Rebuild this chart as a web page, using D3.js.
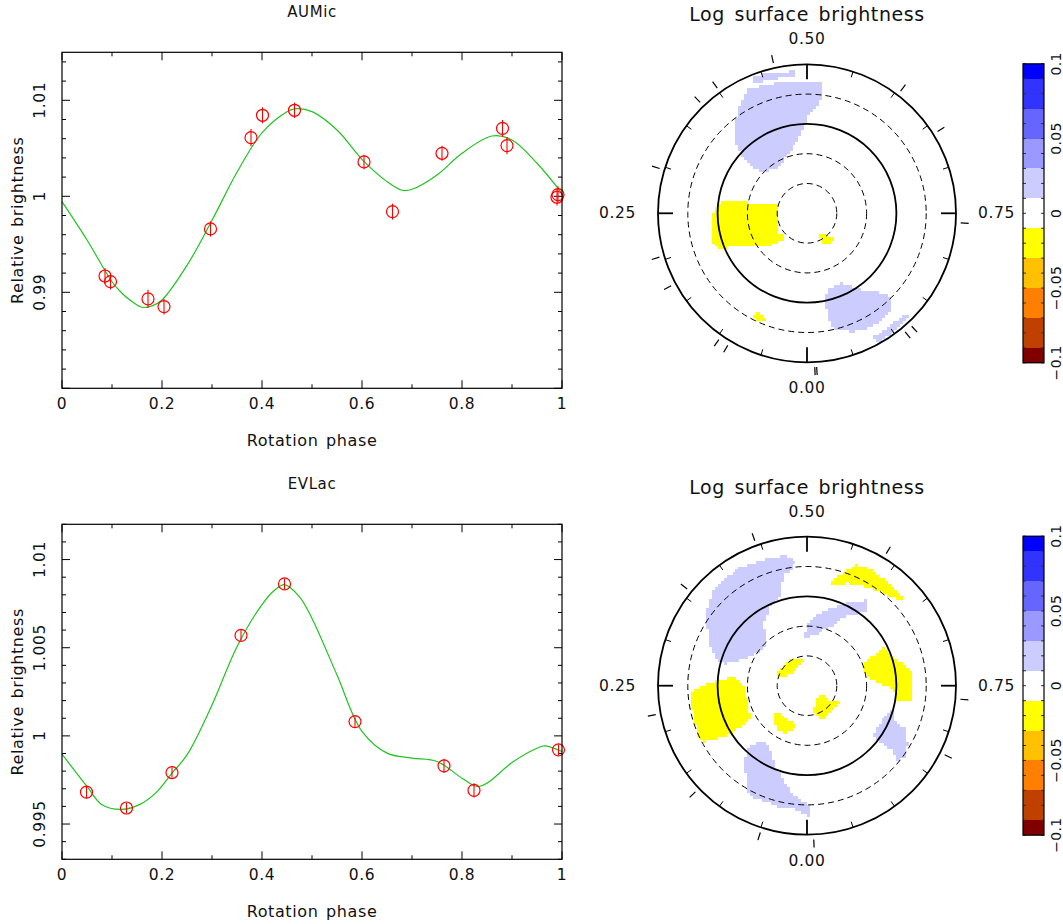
<!DOCTYPE html>
<html lang="en">
<head>
<meta charset="UTF-8" />
<title>Light curves and surface brightness maps</title>
<script src="https://d3js.org/d3.v7.min.js"></script>
<style>
  body { margin: 0; background: #fff; }
  svg { display: block; font-family: "DejaVu Sans", sans-serif; }
  text { letter-spacing: 0.6px; fill: #111; }
  .cell { shape-rendering: crispEdges; }
</style>
</head>
<body>
<svg id="chart"></svg>
<script>
const W = 1063, H = 924;

// AU Mic photometry (phase, relative brightness, error)
const aumicPhase = [0.086, 0.097, 0.172, 0.204, 0.297, 0.378, 0.401, 0.465, 0.604, 0.661, 0.760, 0.881, 0.890, 0.990, 0.992];
const aumicFlux  = [0.99170, 0.99111, 0.98931, 0.98851, 0.99660, 1.00611, 1.00844, 1.00896, 1.00358, 0.99840, 1.00448, 1.00708, 1.00528, 0.99990, 1.00017];
const aumicErr   = [0.00082, 0.00082, 0.00095, 0.00083, 0.0008, 0.0009, 0.00083, 0.0008, 0.00075, 0.00083, 0.00078, 0.00087, 0.0009, 0.00087, 0.00087];
// AU Mic model light curve
const aumicModelPhase = [0, 0.05, 0.1, 0.12, 0.14, 0.16, 0.18, 0.2, 0.25, 0.3, 0.35, 0.4, 0.45, 0.467, 0.5, 0.55, 0.6, 0.65, 0.68, 0.7, 0.75, 0.8, 0.86, 0.9, 0.95, 1.0];
const aumicModelFlux  = [0.99944, 0.99545, 0.99110, 0.98990, 0.98903, 0.98844, 0.98858, 0.98920, 0.99280, 0.99750, 1.00250, 1.00660, 1.00880, 1.00913, 1.00882, 1.00691, 1.00385, 1.00153, 1.00063, 1.00073, 1.00222, 1.00448, 1.00628, 1.00587, 1.00344, 1.00031];

// EV Lac photometry
const evlacPhase = [0.049, 0.129, 0.220, 0.358, 0.445, 0.586, 0.764, 0.824, 0.993];
const evlacFlux  = [0.99681, 0.99591, 0.99792, 1.00570, 1.00862, 1.00081, 0.99830, 0.99691, 0.99921];
const evlacErr   = [0.00035, 0.0003, 0.0003, 0.0003, 0.0003, 0.0003, 0.0004, 0.0004, 0.0003];
// EV Lac model light curve
const evlacModelPhase = [0, 0.05, 0.08, 0.12, 0.157, 0.187, 0.22, 0.25, 0.3, 0.35, 0.4, 0.425, 0.445, 0.475, 0.5, 0.55, 0.6, 0.65, 0.7, 0.75, 0.8, 0.83, 0.85, 0.9, 0.95, 0.965, 1.0];
const evlacModelFlux  = [0.99896, 0.99713, 0.99609, 0.99583, 0.99613, 0.99675, 0.99789, 0.99892, 1.00175, 1.00506, 1.00745, 1.00826, 1.00858, 1.00789, 1.00666, 1.00345, 1.00025, 0.99902, 0.99874, 0.99855, 0.99760, 0.99713, 0.99732, 0.99849, 0.99930, 0.99943, 0.99911];

const xTickLabels = ["0", "0.2", "0.4", "0.6", "0.8", "1"];
const aumicYTicks = [0.99, 1, 1.01];
const evlacYTicks = [0.995, 1, 1.005, 1.01];

// brightness map levels
const bandEdges  = [-0.1, -0.09, -0.07, -0.05, -0.03, -0.01, 0.01, 0.03, 0.05, 0.07, 0.09, 0.1];
const bandColors = ["#800000", "#c04000", "#ff8000", "#ffc000", "#ffff00", "#ffffff", "#ccccff", "#9999ff", "#6666ff", "#3333ff", "#0000ff"];
const barLabels  = [0.1, 0.05, 0, -0.05, -0.1];
const mapPhaseLabels = [0, 0.25, 0.5, 0.75];
const ringLats = [60, 30, 0, -30, -60];

// spots: outlines in the polar projection plane (colatitude degrees, phase 0 down)
const aumicSpots = [
  { level: 0.02, pts: [[-54,-136],[-44,-140],[-12,-143],[-12,-139],[-34,-136],[-52,-132]] },
  { level: 0.02, pts: [[-67,-110],[-59,-125],[-37,-130],[-17,-133],[15,-131],[15,-116],[11,-108],[0,-98],[-2,-88],[-10,-73],[-19,-60],[-30,-47],[-44,-41],[-52,-45],[-62,-53],[-69,-64],[-72,-76],[-71,-93]] },
  { level: -0.02, pts: [[-95,0],[-87,-11],[-30,-10],[-30,20],[-24,23],[-26,27],[-37,32],[-80,34],[-89,37],[-95,29]] },
  { level: -0.02, pts: [[13,21],[20,22],[26,25],[25,30],[18,30],[14,26]] },
  { level: -0.02, pts: [[-52,100],[-47,100],[-42,106],[-45,109],[-54,105]] },
  { level: 0.02, pts: [[21,77],[33,70],[56,77],[76,80],[85,86],[83,97],[75,108],[65,114],[46,119],[30,117],[23,110],[19,95],[18,86]] },
  { level: 0.02, pts: [[66,125],[83,114],[100,100],[102,104],[90,117],[73,129]] }
];
const aumicObsPhase = aumicPhase;

const evlacSpots = [
  { level: 0.02, pts: [[-102,-74],[-95,-94],[-84,-107],[-67,-119],[-47,-126],[-22,-132],[-12,-124],[-17,-117],[-25,-111],[-27,-91],[-37,-81],[-44,-64],[-42,-41],[-50,-34],[-64,-27],[-84,-22],[-92,-27],[-99,-44],[-101,-61]] },
  { level: 0.02, pts: [[-4,-49],[3,-66],[11,-71],[23,-77],[43,-84],[60,-86],[60,-76],[46,-72],[35,-69],[28,-63],[20,-58],[10,-52],[1,-48]] },
  { level: -0.02, pts: [[25,-104],[38,-115],[50,-122],[63,-117],[76,-107],[90,-96],[96,-88],[93,-87],[81,-92],[68,-97],[56,-101],[40,-104],[28,-101]] },
  { level: -0.02, pts: [[56,-23],[65,-29],[76,-39],[85,-32],[90,-26],[100,-19],[105,-12],[105,14],[91,14],[88,3],[75,-1],[63,-7],[56,-16]] },
  { level: -0.02, pts: [[-117,9],[-110,2],[-90,-6],[-72,-9],[-64,-1],[-61,13],[-57,33],[-67,41],[-82,51],[-104,56],[-110,49],[-115,28]] },
  { level: -0.02, pts: [[-30,-12],[-22,-22],[-15,-27],[-1,-27],[-10,-17],[-17,-11],[-29,-9]] },
  { level: -0.02, pts: [[6,26],[10,11],[18,9],[20,14],[31,14],[33,18],[23,25],[16,33],[9,30]] },
  { level: -0.02, pts: [[-34,28],[-26,27],[-24,33],[-16,37],[-12,42],[-22,48],[-30,43],[-33,36]] },
  { level: 0.02, pts: [[-62,73],[-58,61],[-44,55],[-35,69],[-34,79],[-27,89],[-17,108],[-2,118],[3,121],[3,132],[-4,128],[-14,124],[-25,123],[-40,117],[-55,113],[-60,106],[-59,94],[-63,84]] },
  { level: 0.02, pts: [[66,49],[74,37],[81,29],[86,24],[88,36],[98,43],[101,59],[98,71],[91,76],[86,64],[76,58],[67,51]] }
];
const evlacObsPhase = evlacPhase;

const svg = d3.select("#chart").attr("width", W).attr("height", H);
const colour = d3.scaleThreshold().domain(bandEdges.slice(1, -1)).range(bandColors);

function lightCurve(opts) {
  const { top, bottom, domain, yTicks, major, minor, phase, flux, err, mPhase, mFlux, title } = opts;
  const x = d3.scaleLinear([0, 1], [62, 562]);
  const y = d3.scaleLinear(domain, [bottom, top]);
  const g = svg.append("g");

  g.append("text").attr("x", 312).attr("y", top - 35).attr("text-anchor", "middle")
    .attr("font-size", 15).text(title);

  // ticks inside the frame
  const stepTicks = (d0, d1, s) => d3.range(Math.ceil(d0 / s - 1e-6), Math.floor(d1 / s + 1e-6) + 1).map(i => i * s);
  const xt = stepTicks(0, 1, 0.1);
  xt.forEach((v, i) => {
    const len = i % 2 === 0 ? 8 : 4;
    g.append("line").attr("x1", x(v)).attr("x2", x(v)).attr("y1", bottom).attr("y2", bottom - len).attr("stroke", "#000");
    g.append("line").attr("x1", x(v)).attr("x2", x(v)).attr("y1", top).attr("y2", top + len).attr("stroke", "#000");
  });
  stepTicks(domain[0], domain[1], minor).forEach(v => {
    const isMajor = Math.abs(v / major - Math.round(v / major)) < 1e-6;
    const len = isMajor ? 8 : 4;
    g.append("line").attr("x1", 62).attr("x2", 62 + len).attr("y1", y(v)).attr("y2", y(v)).attr("stroke", "#000");
    g.append("line").attr("x1", 562).attr("x2", 562 - len).attr("y1", y(v)).attr("y2", y(v)).attr("stroke", "#000");
  });

  g.selectAll(".xl").data(xTickLabels).join("text")
    .attr("x", d => x(+d)).attr("y", bottom + 16).attr("text-anchor", "middle")
    .attr("dominant-baseline", "central").attr("font-size", 15.5).text(d => d);

  g.selectAll(".yl").data(yTicks).join("text")
    .attr("transform", d => `translate(40,${y(d)}) rotate(-90)`)
    .attr("text-anchor", "middle").attr("dominant-baseline", "central")
    .attr("font-size", 15.5).text(d => String(d));

  g.append("text").attr("transform", `translate(17,${(top + bottom) / 2}) rotate(-90)`)
    .attr("text-anchor", "middle").attr("dominant-baseline", "central")
    .attr("font-size", 16).attr("word-spacing", 2).text("Relative brightness");
  g.append("text").attr("x", 312).attr("y", bottom + 52).attr("text-anchor", "middle")
    .attr("dominant-baseline", "central").attr("font-size", 16).attr("word-spacing", 2).text("Rotation phase");

  // model curve
  const line = d3.line().x(d => x(d[0])).y(d => y(d[1])).curve(d3.curveCatmullRom.alpha(0.5));
  g.append("path").datum(d3.zip(mPhase, mFlux)).attr("d", line)
    .attr("fill", "none").attr("stroke", "#1fc41f").attr("stroke-width", 1.2);

  // observations
  const obs = d3.zip(phase, flux, err);
  g.selectAll(".eb").data(obs).join("line")
    .attr("x1", d => x(d[0])).attr("x2", d => x(d[0]))
    .attr("y1", d => y(d[1] - d[2])).attr("y2", d => y(d[1] + d[2]))
    .attr("stroke", "#ff0000").attr("stroke-width", 1.1);
  g.selectAll(".pt").data(obs).join("circle")
    .attr("cx", d => x(d[0])).attr("cy", d => y(d[1])).attr("r", 6)
    .attr("fill", "none").attr("stroke", "#ff0000").attr("stroke-width", 1.2);

  g.append("rect").attr("x", 62).attr("y", top).attr("width", 500).attr("height", bottom - top)
    .attr("fill", "none").attr("stroke", "#000").attr("stroke-width", 1.2);
}

function surfaceMap(cy, spots, obsPhase) {
  const cx = 807, R = 149;
  const g = svg.append("g");
  const mx = d3.scaleLinear([-150, 150], [cx - R, cx + R]);
  const my = d3.scaleLinear([-150, 150], [cy - R, cy + R]);
  const rs = d3.scaleLinear([90, -60], [0, R]);           // latitude -> radius
  const ang = d3.scaleLinear([0, 1], [0, 2 * Math.PI]);  // phase -> angle
  const px = (p, r) => cx - r * Math.sin(ang(p));
  const py = (p, r) => cy + r * Math.cos(ang(p));

  g.append("text").attr("x", cx).attr("y", cy - 199).attr("text-anchor", "middle")
    .attr("dominant-baseline", "central").attr("font-size", 19).attr("word-spacing", 3)
    .text("Log surface brightness");

  // rasterised spots
  const step = 3, cells = [];
  for (let v = -150; v < 150; v += step) {
    for (let u = -150; u < 150; u += step) {
      const c = [u + step / 2, v + step / 2];
      if (Math.hypot(c[0], c[1]) > 150) continue;
      const s = spots.find(s => d3.polygonContains(s.pts, c));
      if (s) cells.push({ u, v, level: s.level });
    }
  }
  g.selectAll(".cell").data(cells).join("rect").attr("class", "cell")
    .attr("x", d => mx(d.u)).attr("y", d => my(d.v))
    .attr("width", mx(step) - mx(0) + 0.4).attr("height", my(step) - my(0) + 0.4)
    .attr("fill", d => colour(d.level));

  // latitude rings
  g.selectAll(".ring").data(ringLats).join("circle")
    .attr("cx", cx).attr("cy", cy).attr("r", d => rs(d))
    .attr("fill", "none").attr("stroke", "#000")
    .attr("stroke-width", d => (d === 0 || d === -60) ? 1.8 : 1)
    .attr("stroke-dasharray", d => (d === 0 || d === -60) ? null : "6,4");

  // phase ticks inside outer circle
  const inner = d3.range(20).map(i => i / 20);
  const isQuarter = d => Math.round(d * 20) % 5 === 0;
  g.selectAll(".itk").data(inner).join("line")
    .attr("x1", d => px(d, R)).attr("y1", d => py(d, R))
    .attr("x2", d => px(d, R - (isQuarter(d) ? 15 : 6)))
    .attr("y2", d => py(d, R - (isQuarter(d) ? 15 : 6)))
    .attr("stroke", "#000").attr("stroke-width", d => isQuarter(d) ? 1.8 : 1);

  // observed phases outside circle
  g.selectAll(".otk").data(obsPhase).join("line")
    .attr("x1", d => px(d, R + 5)).attr("y1", d => py(d, R + 5))
    .attr("x2", d => px(d, R + 13)).attr("y2", d => py(d, R + 13))
    .attr("stroke", "#000").attr("stroke-width", 1.2);

  // phase labels
  g.selectAll(".pl").data(mapPhaseLabels).join("text")
    .attr("x", d => d === 0.25 ? cx - 171 : d === 0.75 ? cx + 171 : cx)
    .attr("y", d => d === 0 ? cy + 175 : d === 0.5 ? cy - 174 : cy)
    .attr("text-anchor", d => d === 0.25 ? "end" : d === 0.75 ? "start" : "middle")
    .attr("dominant-baseline", "central").attr("font-size", 15.5)
    .text(d => d.toFixed(2));

  // colour bar
  const bx = 1023, bw = 21;
  const by = d3.scaleLinear([-0.1, 0.1], [cy + 149.5, cy - 149.5]);
  const bands = d3.pairs(bandEdges);
  g.selectAll(".band").data(bands).join("rect").attr("class", "cell")
    .attr("x", bx).attr("width", bw)
    .attr("y", d => by(d[1])).attr("height", d => by(d[0]) - by(d[1]))
    .attr("fill", (d, i) => bandColors[i]);
  const bt = d3.range(-10, 11).map(i => i / 100);
  g.selectAll(".btl").data(bt).join("line")
    .attr("x1", bx).attr("x2", bx + 3).attr("y1", d => by(d)).attr("y2", d => by(d))
    .attr("stroke", "#333").attr("stroke-width", 1);
  g.selectAll(".btr").data(bt).join("line")
    .attr("x1", bx + bw - 3).attr("x2", bx + bw).attr("y1", d => by(d)).attr("y2", d => by(d))
    .attr("stroke", "#333").attr("stroke-width", 1);
  g.append("rect").attr("x", bx).attr("y", by(0.1)).attr("width", bw).attr("height", by(-0.1) - by(0.1))
    .attr("fill", "none").attr("stroke", "#000").attr("stroke-width", 1.2);
  g.selectAll(".bl").data(barLabels).join("text")
    .attr("transform", d => `translate(1055.5,${by(d)}) rotate(-90)`)
    .attr("text-anchor", "middle").attr("dominant-baseline", "central").attr("font-size", 14)
    .style("letter-spacing", "0.3px")
    .text(d => d < 0 ? "\u2212" + String(-d) : String(d));
}

lightCurve({ top: 52.3, bottom: 388.3, domain: [0.98, 1.015], yTicks: aumicYTicks, major: 0.01, minor: 0.002,
  phase: aumicPhase, flux: aumicFlux, err: aumicErr, mPhase: aumicModelPhase, mFlux: aumicModelFlux, title: "AUMic" });
lightCurve({ top: 524.3, bottom: 859.3, domain: [0.993, 1.012], yTicks: evlacYTicks, major: 0.005, minor: 0.001,
  phase: evlacPhase, flux: evlacFlux, err: evlacErr, mPhase: evlacModelPhase, mFlux: evlacModelFlux, title: "EVLac" });

surfaceMap(213.3, aumicSpots, aumicObsPhase);
surfaceMap(685.7, evlacSpots, evlacObsPhase);
</script>
</body>
</html>
